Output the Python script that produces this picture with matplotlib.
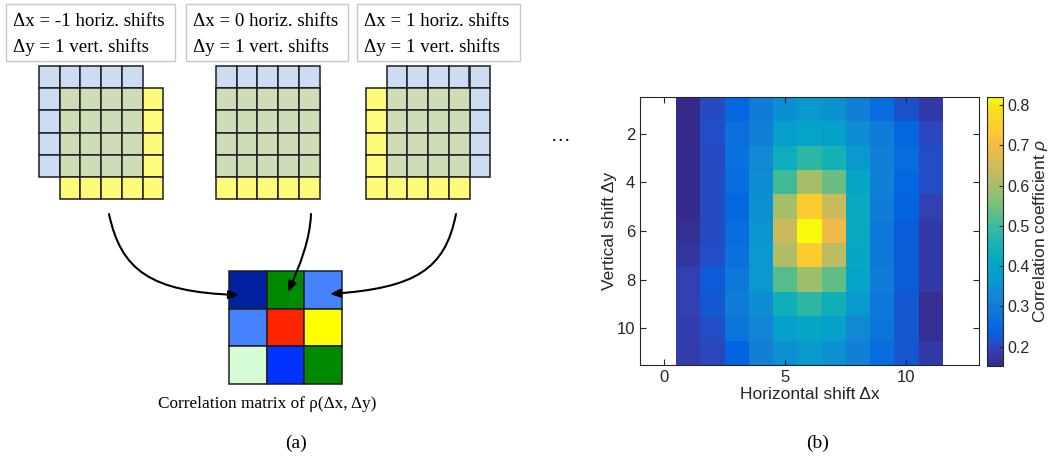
import numpy as np
import matplotlib.pyplot as plt
from matplotlib.colors import LinearSegmentedColormap
from matplotlib.patches import Rectangle, FancyArrowPatch
from matplotlib.path import Path

# panel (a): the three shifts shown, and the 3x3 correlation matrix colours
shift_dx = [-1, 0, 1]
shift_dy = [1, 1, 1]
grid_n = 5
corr_colors = [['#0021A0', '#008A00', '#4582FF'],
               ['#4582FF', '#FF2400', '#FFFF00'],
               ['#D6FCD6', '#0033FF', '#008A00']]

# panel (b): correlation coefficient rho(dx, dy), rows = dy 1..11, cols = dx 1..11
dx_vals = np.arange(1, 12)
dy_vals = np.arange(1, 12)
rho = [
    [0.155, 0.205, 0.250, 0.300, 0.345, 0.370, 0.355, 0.310, 0.260, 0.215, 0.180],
    [0.155, 0.210, 0.270, 0.310, 0.380, 0.400, 0.390, 0.340, 0.300, 0.250, 0.200],
    [0.155, 0.205, 0.270, 0.330, 0.430, 0.480, 0.450, 0.370, 0.310, 0.260, 0.210],
    [0.155, 0.205, 0.260, 0.340, 0.500, 0.600, 0.540, 0.410, 0.310, 0.250, 0.210],
    [0.155, 0.205, 0.250, 0.350, 0.600, 0.740, 0.640, 0.420, 0.300, 0.240, 0.190],
    [0.165, 0.205, 0.260, 0.360, 0.640, 0.820, 0.690, 0.420, 0.290, 0.230, 0.180],
    [0.175, 0.210, 0.270, 0.370, 0.610, 0.740, 0.620, 0.410, 0.290, 0.230, 0.180],
    [0.190, 0.230, 0.290, 0.370, 0.520, 0.590, 0.530, 0.400, 0.300, 0.230, 0.180],
    [0.190, 0.225, 0.300, 0.340, 0.440, 0.480, 0.440, 0.370, 0.290, 0.220, 0.160],
    [0.185, 0.210, 0.280, 0.320, 0.390, 0.410, 0.390, 0.330, 0.280, 0.220, 0.160],
    [0.185, 0.200, 0.240, 0.310, 0.350, 0.370, 0.350, 0.310, 0.260, 0.220, 0.180],
]
rho_min, rho_max = 0.152, 0.82
x_ticks = [0, 5, 10]
y_ticks = [2, 4, 6, 8, 10]
cb_ticks = [0.2, 0.3, 0.4, 0.5, 0.6, 0.7, 0.8]

# parula-like colormap (MATLAB default)
parula_pts = [(0.2081, 0.1663, 0.5292), (0.1959, 0.2645, 0.7279), (0.0117, 0.3875, 0.8820),
              (0.0498, 0.4586, 0.8641), (0.0793, 0.5200, 0.8312), (0.0343, 0.5966, 0.8199),
              (0.0228, 0.6535, 0.7768), (0.0843, 0.6928, 0.7062), (0.2178, 0.7250, 0.6193),
              (0.3953, 0.7459, 0.5244), (0.5709, 0.7485, 0.4494), (0.7184, 0.7411, 0.3905),
              (0.8507, 0.7299, 0.3360), (0.9739, 0.7314, 0.2666), (0.9880, 0.8066, 0.1794),
              (0.9626, 0.8705, 0.1309), (0.9763, 0.9831, 0.0538)]
parula_pos = [0, 4, 8, 12, 16, 20, 24, 28, 32, 36, 40, 44, 48, 52, 56, 60, 63]
parula = LinearSegmentedColormap.from_list(
    'parula', [(p / 63, c) for p, c in zip(parula_pos, parula_pts)])

plt.rcParams['font.family'] = ['Liberation Sans', 'DejaVu Sans']
plt.rcParams['mathtext.fontset'] = 'custom'
plt.rcParams['mathtext.it'] = 'Liberation Sans:italic'
serif = ['Liberation Serif', 'DejaVu Serif']

W, H = 1050, 466
fig = plt.figure(figsize=(W / 100, H / 100), dpi=100)

# ---- panel (a), drawn in pixel coordinates ----
axd = fig.add_axes([0, 0, 1, 1])
axd.set_xlim(0, W)
axd.set_ylim(H, 0)
axd.axis('off')

blue, yellow, green = '#CCDDF2', '#FFFA78', '#CFDDB6'
edge = '#1E1E24'
cw, ch = 20.7, 22.2
grid_left = [39, 216, 366]
grid_top = 66
box_x = [6, 186, 357]
box_w = [169, 162, 163]

for k in range(len(shift_dx)):
    dx, dy = shift_dx[k], shift_dy[k]
    bx = grid_left[k] + max(dx, 0) * cw
    yx = grid_left[k] + max(-dx, 0) * cw
    by = grid_top
    yy = grid_top + dy * ch
    for i in range(grid_n):
        for j in range(grid_n):
            axd.add_patch(Rectangle((bx + j * cw, by + i * ch), cw, ch, fc=blue, ec=edge, lw=1.1))
    for i in range(grid_n):
        for j in range(grid_n):
            x0, y0 = yx + j * cw, yy + i * ch
            inside = (bx - 0.1 <= x0 < bx + grid_n * cw - 0.1) and (by - 0.1 <= y0 < by + grid_n * ch - 0.1)
            axd.add_patch(Rectangle((x0, y0), cw, ch, fc=green if inside else yellow, ec=edge, lw=1.1))

    axd.add_patch(Rectangle((box_x[k], 4), box_w[k], 57, fc='white', ec='#C8C8C8', lw=1.0))
    axd.text(box_x[k] + 7, 22, f'Δx = {dx} horiz. shifts', family=serif, fontsize=13.6, va='center')
    axd.text(box_x[k] + 7, 47, f'Δy = {dy} vert. shifts', family=serif, fontsize=13.6, va='center')

axd.text(561, 141, '…', family=serif, fontsize=14, ha='center', va='baseline')

# 3x3 correlation matrix
mx, my, mc = 229, 271, 37.7
for i in range(3):
    for j in range(3):
        axd.add_patch(Rectangle((mx + j * mc, my + i * mc), mc, mc, fc=corr_colors[i][j], ec=edge, lw=1.1))

# curved arrows from each shifted grid to its matrix entry
arrows = [[(109, 214), (121, 270), (150, 292), (239, 295)],
          [(311, 214), (310, 240), (300, 265), (288, 292)],
          [(456, 214), (445, 270), (415, 288), (330, 294)]]
codes = [Path.MOVETO, Path.CURVE4, Path.CURVE4, Path.CURVE4]
for verts in arrows:
    axd.add_patch(FancyArrowPatch(path=Path(verts, codes), arrowstyle='-|>,head_length=0.6,head_width=0.25',
                                  mutation_scale=10, lw=1.5, color='black'))

axd.text(267, 404, 'Correlation matrix of ρ(Δx, Δy)', family=serif, fontsize=12.4, ha='center', va='center')
axd.text(296, 443, '(a)', family=serif, fontsize=14, ha='center', va='center')
axd.text(818, 443, '(b)', family=serif, fontsize=14, ha='center', va='center')

# ---- panel (b) heatmap ----
dark = '#262626'
ax = fig.add_axes([640 / W, (H - 365) / H, 339 / W, 268 / H])
im = ax.imshow(rho, cmap=parula, vmin=rho_min, vmax=rho_max, interpolation='nearest', aspect='auto',
               extent=[dx_vals[0] - 0.5, dx_vals[-1] + 0.5, dy_vals[-1] + 0.5, dy_vals[0] - 0.5])
ax.set_xlim(-1, 13)
ax.set_ylim(11.5, 0.5)
ax.set_xticks(x_ticks)
ax.set_yticks(y_ticks)
ax.tick_params(direction='in', top=True, right=True, length=4, width=0.8, color=dark,
               labelcolor=dark, labelsize=12)
for s in ax.spines.values():
    s.set_color(dark)
    s.set_linewidth(0.8)
ax.set_xlabel('Horizontal shift Δx', fontsize=12.5, color=dark)
ax.xaxis.set_label_coords(0.5, -0.083)
ax.set_ylabel('Vertical shift Δy', fontsize=12.5, color=dark)
ax.yaxis.set_label_coords(-0.068, 0.5)

cax = fig.add_axes([987 / W, (H - 366) / H, 16.5 / W, 269 / H])
cb = fig.colorbar(im, cax=cax, ticks=cb_ticks)
cb.outline.set_edgecolor(dark)
cb.outline.set_linewidth(0.8)
cax.tick_params(direction='in', length=3, width=0.8, color=dark, labelcolor=dark, labelsize=11.5, pad=3)
cax.set_yticklabels([f'{t:.1f}' for t in cb_ticks])
fig.text(1040 / W, 1 - 231 / H, r'Correlation coefficient $\it{\rho}$', rotation=90,
         ha='center', va='center', fontsize=12.5, color=dark)

fig.savefig('out.png', dpi=100)
